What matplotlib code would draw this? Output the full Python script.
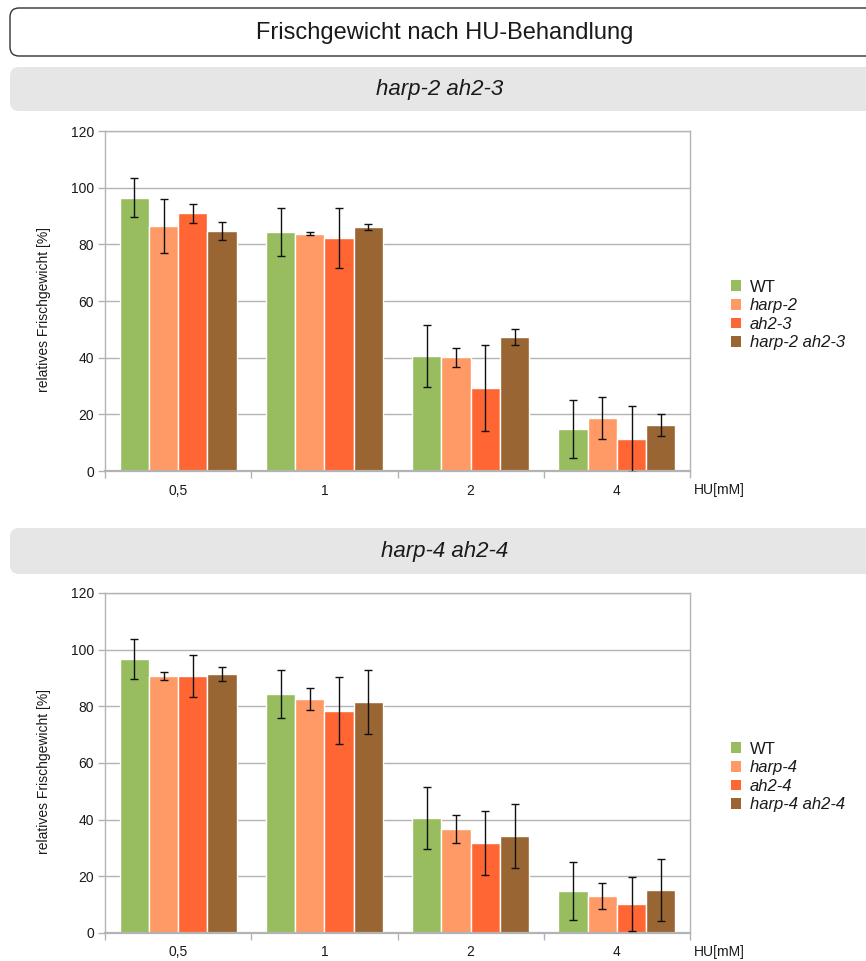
import matplotlib
matplotlib.use("Agg")
import matplotlib.pyplot as plt
from matplotlib.patches import FancyBboxPatch, Patch
import numpy as np

plt.rcParams['font.family'] = ['Liberation Sans', 'DejaVu Sans']

# HU concentrations (mM)
hu_labels = ["0,5", "1", "2", "4"]

# harp-2 / ah2-3 series
lines_a = ["WT", "harp-2", "ah2-3", "harp-2 ah2-3"]
wt_a = [96.5, 84.3, 40.6, 14.8]
wt_a_err = [7.0, 8.5, 10.8, 10.3]
harp2 = [86.4, 83.8, 40.1, 18.7]
harp2_err = [9.5, 0.6, 3.3, 7.5]
ah23 = [91.0, 82.2, 29.3, 11.3]
ah23_err = [3.3, 10.6, 15.3, 11.5]
harp2_ah23 = [84.7, 86.1, 47.3, 16.2]
harp2_ah23_err = [3.2, 1.0, 2.9, 3.8]

# harp-4 / ah2-4 series
lines_b = ["WT", "harp-4", "ah2-4", "harp-4 ah2-4"]
wt_b = [96.6, 84.3, 40.6, 14.8]
wt_b_err = [7.0, 8.5, 10.8, 10.3]
harp4 = [90.7, 82.6, 36.7, 13.1]
harp4_err = [1.3, 4.0, 4.8, 4.5]
ah24 = [90.7, 78.4, 31.8, 10.2]
ah24_err = [7.3, 11.8, 11.4, 9.6]
harp4_ah24 = [91.4, 81.5, 34.2, 15.2]
harp4_ah24_err = [2.5, 11.2, 11.3, 10.9]

colors = ["#97bd5f", "#ff9966", "#ff6633", "#996633"]
grid_c = "#b3b3b3"

W, H = 866, 961
fig = plt.figure(figsize=(W / 100, H / 100), dpi=100)

# background layer in pixel coordinates for the header boxes
bg = fig.add_axes([0, 0, 1, 1], zorder=-10)
bg.set_xlim(0, W)
bg.set_ylim(H, 0)
bg.axis("off")


def header(y0, y1, text, face, edge, italic, size, xc=445):
    box = FancyBboxPatch((10, y0), 880, y1 - y0,
                         boxstyle="round,pad=0,rounding_size=9",
                         facecolor=face, edgecolor=edge, linewidth=1)
    bg.add_patch(box)
    bg.text(xc, (y0 + y1) / 2 + 1, text, ha="center", va="center",
            fontsize=size, color="#1a1a1a",
            style="italic" if italic else "normal")


header(8, 56, "Frischgewicht nach HU-Behandlung", "white", "#333333", False, 17)
header(67, 111, "harp-2 ah2-3", "#e6e6e6", "none", True, 16, 440)
header(528, 574, "harp-4 ah2-4", "#e6e6e6", "none", True, 16, 445)


def panel(rect, series, errs, names, leg_y):
    ax = fig.add_axes(rect)
    x = np.arange(len(hu_labels))
    offsets = [-0.3, -0.1, 0.1, 0.3]
    for vals, err, name, col, off in zip(series, errs, names, colors, offsets):
        ax.bar(x + off, vals, width=0.2, color=col, edgecolor="white",
               linewidth=1, label=name, zorder=2)
        ax.errorbar(x + off, vals, yerr=err, fmt="none", ecolor="#111111",
                    elinewidth=1, capsize=3.2, capthick=1, zorder=3)

    ax.set_xlim(-0.5, 3.5)
    ax.set_ylim(0, 120)
    ax.set_yticks(range(0, 121, 20))
    ax.set_xticks(x)
    ax.set_xticklabels(hu_labels)
    ax.set_xticks(np.arange(-0.5, 3.6, 1), minor=True)
    ax.tick_params(axis="x", which="major", length=0, pad=9, labelsize=10,
                   labelcolor="#1a1a1a")
    ax.tick_params(axis="x", which="minor", length=5, color=grid_c, width=1)
    ax.tick_params(axis="y", length=5, color=grid_c, width=1, pad=3,
                   labelsize=10, labelcolor="#1a1a1a")
    ax.yaxis.grid(True, color=grid_c, linewidth=1)
    ax.set_axisbelow(True)
    for side in ["left", "right", "top", "bottom"]:
        ax.spines[side].set_color(grid_c)
        ax.spines[side].set_linewidth(1)
    ax.spines["bottom"].set_linewidth(1.6)

    ax.set_ylabel("relatives Frischgewicht [%]", fontsize=10, color="#1a1a1a")
    ax.yaxis.set_label_coords(-0.093, 0.475)
    ax.text(1.007, -0.056, "HU[mM]", transform=ax.transAxes, ha="left",
            va="center", fontsize=10, color="#1a1a1a")

    handles = [Patch(facecolor=c, edgecolor="none") for c in colors]
    leg = fig.legend(handles, names, loc="center left",
                     bbox_to_anchor=(724 / W, 1 - leg_y / H),
                     frameon=False, fontsize=12, handlelength=0.6,
                     handleheight=0.6, handletextpad=0.55, labelspacing=0.22,
                     borderaxespad=0)
    for i, t in enumerate(leg.get_texts()):
        t.set_color("#1a1a1a")
        if i > 0:
            t.set_style("italic")
    return ax


ax_w = 585 / W
panel([105 / W, 1 - 471 / H, ax_w, 340 / H],
      [wt_a, harp2, ah23, harp2_ah23],
      [wt_a_err, harp2_err, ah23_err, harp2_ah23_err], lines_a, 315)
panel([105 / W, 1 - 933 / H, ax_w, 340 / H],
      [wt_b, harp4, ah24, harp4_ah24],
      [wt_b_err, harp4_err, ah24_err, harp4_ah24_err], lines_b, 777)

fig.savefig("out.png", dpi=100)
